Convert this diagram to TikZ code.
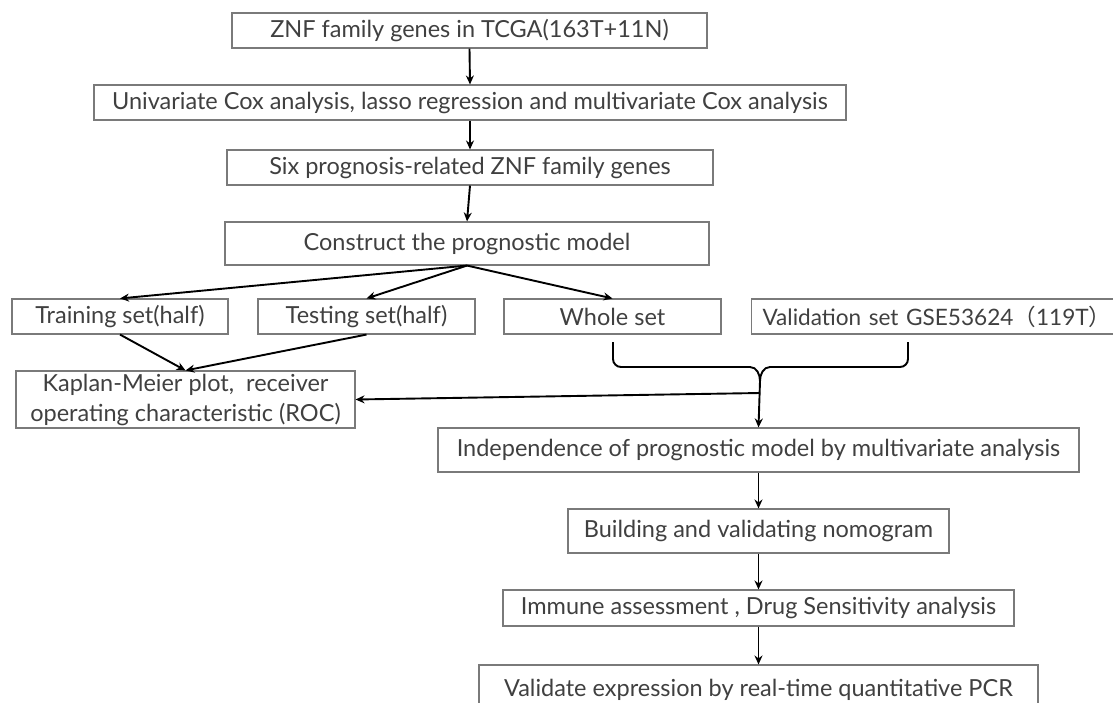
\documentclass[tikz,border=0pt]{standalone}
\usepackage{fontspec}
\setmainfont{Lato}
\newfontfamily\cjkfont{Noto Sans CJK SC}
\usetikzlibrary{arrows.meta}
\definecolor{txt}{HTML}{404040}
\definecolor{edge}{HTML}{7A7A7A}
\begin{document}
\begin{tikzpicture}[x=1pt,y=-1pt,
  box/.style={draw=edge, line width=1.1pt, fill=white, inner sep=0pt, text=txt,
    font=\fontsize{23.5}{30}\selectfont, align=center},
  arr/.style={draw=black, line width=1.9pt, -{Stealth[length=9pt,width=8pt]}},
  brace/.style={draw=black, line width=1.9pt}]
\useasboundingbox[fill=white] (0,0) rectangle (1113,702);
\node[box, minimum width=475, minimum height=35] (n1) at (469.5,30.5) {ZNF family genes in TCGA(163T+11N)};
\node[box, minimum width=752, minimum height=35] (n2) at (470,102.5) {Univariate Cox analysis, lasso regression and multivariate Cox analysis};
\node[box, minimum width=486, minimum height=35] (n3) at (470,167.5) {Six prognosis-related ZNF family genes};
\node[box, minimum width=484, minimum height=43] (n4) at (467,243.5) {Construct the prognostic model};
\node[box, minimum width=216, minimum height=35] (train) at (120,316.5) {Training set(half)};
\node[box, minimum width=217, minimum height=35] (test) at (366.5,316.5) {Testing set(half)};
\node[box, minimum width=217, minimum height=35] (whole) at (612.5,316.5) {Whole set};
\node[box, minimum width=400, minimum height=35, anchor=west, inner xsep=11pt, text width=378, align=left,
  font=\fontsize{22.6}{30}\selectfont] (valid) at (751,316.5) {Validation set GSE53624{\cjkfont （}119T{\cjkfont ）}};
\node[box, minimum width=339, minimum height=57] (km) at (185.5,399.5) {Kaplan-Meier plot,\ \ receiver\\operating characteristic (ROC)};
\node[box, minimum width=641, minimum height=44] (indep) at (758.5,450) {Independence of prognostic model by multivariate analysis};
\node[box, minimum width=381, minimum height=44] (build) at (758.5,531) {Building and validating nomogram};
\node[box, minimum width=511, minimum height=36] (immune) at (758.5,608) {Immune assessment , Drug Sensitivity analysis};
\node[box, minimum width=559, minimum height=50] (vpcr) at (758.5,690) {Validate expression by real-time quantitative PCR};
\draw[arr] (n1.south) -- (n2.north);
\draw[arr] (n2.south) -- (n3.north);
\draw[arr] (n3.south) -- (n4.north);
\draw[arr] (n4.south) -- (train.north);
\draw[arr] (n4.south) -- (test.north);
\draw[arr] (n4.south) -- (whole.north);
\draw[arr] (train.south) -- (km.north);
\draw[arr] (test.south) -- (km.north);
\coordinate (bl) at (613,342);
\coordinate (br) at (908,342);
\coordinate (bt) at (760,381);
\coordinate (bj) at (760,393);
\draw[brace] (bl) -- (613,359) to[out=-90,in=180] (621,367) -- (750,367) to[out=0,in=90] (bt)
  to[out=90,in=180] (770,367) -- (900,367) to[out=0,in=-90] (908,359) -- (br);
\draw[arr] (bt) -- (indep.north);
\draw[arr] (bj) -- (km.east);
\draw[arr] (indep.south) -- (build.north);
\draw[arr] (build.south) -- (immune.north);
\draw[arr] (immune.south) -- (vpcr.north);
\end{tikzpicture}
\end{document}
